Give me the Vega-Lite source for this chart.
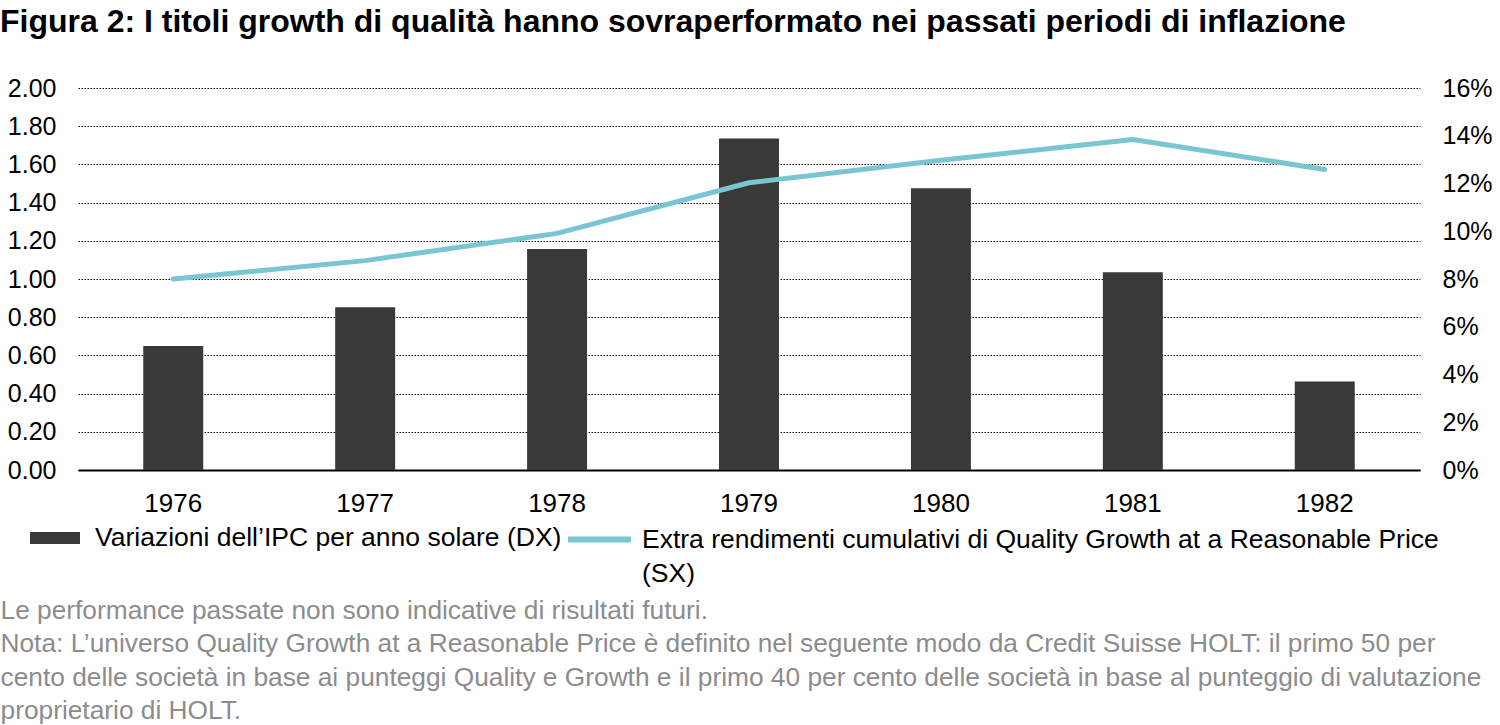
{
  "$schema": "https://vega.github.io/schema/vega-lite/v6.json",
  "width": 1342,
  "height": 382,
  "autosize": {"type": "none"},
  "padding": {"left": 78, "top": 88, "right": 80, "bottom": 255},
  "background": "white",
  "title": {
    "text": "Figura 2: I titoli growth di qualità hanno sovraperformato nei passati periodi di inflazione",
    "anchor": "start",
    "dy": -33,
    "fontSize": 32,
    "fontWeight": "bold",
    "color": "black"
  },
  "config": {
    "font": "Liberation Sans",
    "view": {"stroke": null},
    "style": {"guide-label": {"lineHeight": 34}}
  },
  "data": {
    "values": [
      {"year": "1976", "ipc": 0.649, "extra": 0.0800},
      {"year": "1977", "ipc": 0.852, "extra": 0.0877},
      {"year": "1978", "ipc": 1.157, "extra": 0.0991},
      {"year": "1979", "ipc": 1.735, "extra": 0.1203},
      {"year": "1980", "ipc": 1.475, "extra": 0.1297},
      {"year": "1981", "ipc": 1.035, "extra": 0.1384},
      {"year": "1982", "ipc": 0.464, "extra": 0.1259}
    ]
  },
  "encoding": {
    "x": {
      "field": "year",
      "type": "ordinal",
      "scale": {"paddingInner": 0.6875, "paddingOuter": 0.34},
      "axis": {
        "labelAngle": 0,
        "labelFontSize": 26,
        "labelColor": "black",
        "labelPadding": 20,
        "ticks": false,
        "domainColor": "black",
        "domainWidth": 2,
        "grid": false,
        "title": [
          "Le performance passate non sono indicative di risultati futuri.",
          "Nota: L’universo Quality Growth at a Reasonable Price è definito nel seguente modo da Credit Suisse HOLT: il primo 50 per",
          "cento delle società in base ai punteggi Quality e Growth e il primo 40 per cento delle società in base al punteggio di valutazione",
          "proprietario di HOLT."
        ],
        "titleFontSize": 26.3,
        "titleFontWeight": "normal",
        "titleColor": "#8c8c8c",
        "titleAnchor": "start",
        "titleAlign": "left",
        "titleBaseline": "top",
        "titleLineHeight": 33.5,
        "titleX": -78,
        "titleY": 127
      }
    }
  },
  "layer": [
    {
      "mark": {"type": "bar"},
      "encoding": {
        "y": {
          "field": "ipc",
          "type": "quantitative",
          "scale": {"domain": [0, 2], "nice": false},
          "axis": {
            "orient": "left",
            "values": [0, 0.2, 0.4, 0.6, 0.8, 1, 1.2, 1.4, 1.6, 1.8, 2],
            "format": ".2f",
            "title": null,
            "domain": false,
            "ticks": false,
            "labelFontSize": 25,
            "labelColor": "black",
            "labelPadding": 22,
            "grid": true,
            "gridColor": "black",
            "gridDash": [1.5, 1.5],
            "gridWidth": 1.2
          }
        },
        "color": {
          "datum": "Variazioni dell’IPC per anno solare (DX)",
          "scale": {"range": ["#393a37"]},
          "legend": {
            "title": null,
            "orient": "none",
            "legendX": -48,
            "legendY": 425,
            "symbolType": "M-1,-0.24H1V0.24H-1Z",
            "symbolSize": 2500,
            "symbolStrokeWidth": 0,
            "labelFontSize": 26.5,
            "labelColor": "black",
            "labelOffset": 15,
            "labelLimit": 2000
          }
        }
      }
    },
    {
      "mark": {"type": "line", "strokeWidth": 5, "strokeCap": "round", "strokeJoin": "round"},
      "encoding": {
        "y": {
          "field": "extra",
          "type": "quantitative",
          "scale": {"domain": [0, 0.16], "nice": false},
          "axis": {
            "orient": "right",
            "values": [0, 0.02, 0.04, 0.06, 0.08, 0.1, 0.12, 0.14, 0.16],
            "format": ".0%",
            "title": null,
            "domain": false,
            "ticks": false,
            "grid": false,
            "labelFontSize": 25,
            "labelColor": "black",
            "labelPadding": 22
          }
        },
        "stroke": {
          "datum": "Extra rendimenti cumulativi di Quality Growth at a Reasonable Price|(SX)",
          "scale": {"range": ["#7ac5d2"]},
          "legend": {
            "title": null,
            "orient": "none",
            "legendX": 487,
            "legendY": 417,
            "symbolType": "stroke",
            "symbolSize": 3969,
            "symbolStrokeWidth": 6,
            "labelFontSize": 26.5,
            "labelColor": "black",
            "labelOffset": 8,
            "labelLimit": 2000,
            "labelExpr": "split(datum.label, '|')"
          }
        }
      }
    }
  ],
  "resolve": {"scale": {"y": "independent"}}
}
